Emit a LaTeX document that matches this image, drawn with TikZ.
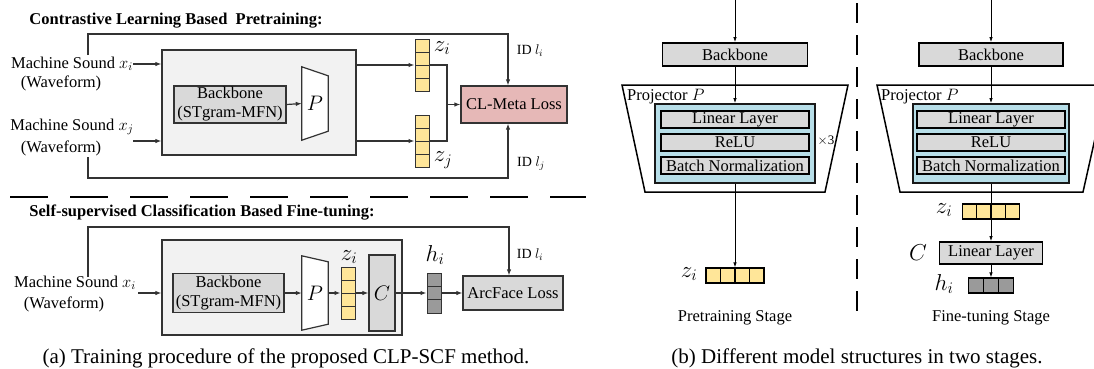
\RequirePackage{fix-cm}
\documentclass[tikz,border=0pt]{standalone}
\usepackage{fontspec}
\setmainfont{Liberation Serif}
\usetikzlibrary{arrows.meta,calc}
\definecolor{bgbox}{HTML}{F2F2F2}
\definecolor{gbox}{HTML}{D9D9D9}
\definecolor{yel}{HTML}{FFE699}
\definecolor{pinkbox}{HTML}{E6B8B7}
\definecolor{cyanbox}{HTML}{B7DEE8}
\definecolor{hgray}{HTML}{9A9A9A}
\definecolor{edge}{HTML}{333333}
\begin{document}
\begin{tikzpicture}[x=1pt,y=-1pt,
  font=\fontsize{16.5}{19}\selectfont,
  txt/.style={inner sep=0pt},
  mlab/.style={inner sep=0pt,font=\fontsize{23}{23}\selectfont},
  small/.style={inner sep=0pt,font=\fontsize{14}{16}\selectfont},
  bigbox/.style={draw=edge,fill=bgbox,line width=1.2pt,inner sep=0pt},
  graybox/.style={draw=edge,fill=gbox,line width=1.2pt,inner sep=0pt,align=center},
  pinkbx/.style={draw=edge,fill=pinkbox,line width=1.2pt,inner sep=0pt},
  pbox/.style={inner sep=0pt,font=\fontsize{21}{21}\selectfont},
  trap/.style={draw=edge,fill=white,line width=1.2pt},
  vsplit/.style={path picture={\foreach \k in {1,...,#1}{\draw[line width=1pt,draw=edge]
     ($(path picture bounding box.north west)!{\k/(#1+1)}!(path picture bounding box.south west)$) --
     ($(path picture bounding box.north east)!{\k/(#1+1)}!(path picture bounding box.south east)$);}}},
  hsplit/.style={path picture={\foreach \k in {1,...,#1}{\draw[line width=1.2pt,draw=black]
     ($(path picture bounding box.north west)!{\k/(#1+1)}!(path picture bounding box.north east)$) --
     ($(path picture bounding box.south west)!{\k/(#1+1)}!(path picture bounding box.south east)$);}}},
  yvec/.style={draw=edge,fill=yel,line width=1pt,inner sep=0pt},
  gvec/.style={draw=edge,fill=hgray,line width=1pt,inner sep=0pt},
  arr/.style={-{Latex[length=6pt,width=4.5pt]},line width=1.2pt,draw=edge},
  ln/.style={line width=1.2pt,draw=edge},
  bbx/.style={draw=black,fill=gbox,line width=1.8pt,inner sep=0pt},
  cybx/.style={draw=black!90,fill=cyanbox,line width=1.8pt,inner sep=0pt},
  ibx/.style={draw=black,fill=gbox,line width=1.8pt,inner sep=0pt},
  ptrap/.style={draw=black,line width=1.5pt},
  tarr/.style={-{Latex[length=5pt,width=3.5pt]},line width=0.8pt,draw=black},
  hyvec/.style={draw=black,fill=yel,line width=1.2pt,inner sep=0pt},
  hgvec/.style={draw=black,fill=hgray,line width=1.2pt,inner sep=0pt},
]
\useasboundingbox (0,0) rectangle (1094,368);
\clip (0,0) rectangle (1094,368);

% ---------------- (a) top: pretraining ----------------
\node[txt,font=\fontsize{16.5}{19}\selectfont\bfseries] (t1) at (176,21) {Contrastive Learning Based\ \ Pretraining:};
\node[txt] (msi) at (72,64) {Machine Sound $x_i$};
\node[txt] (wfi) at (61,83) {(Waveform)};
\node[txt] (msj) at (72,127) {Machine Sound $x_j$};
\node[txt] (wfj) at (61,148) {(Waveform)};
\node[bigbox,minimum width=194pt,minimum height=105pt] (bb1) at (259,102.5) {};
\node[graybox,minimum width=112pt,minimum height=37pt] (bk1) at (230,104.5) {Backbone\\(STgram-MFN)};
\node[pbox,minimum width=26pt,minimum height=73pt] (P1) at (315,103.5) {};
\draw[trap] (P1.north west) -- ($(P1.north east)+(0,9)$) -- ($(P1.south east)+(0,-9)$) -- (P1.south west) -- cycle;
\node[pbox] (P1t) at (P1.center) {$P$};
\node[yvec,vsplit=3,minimum width=14pt,minimum height=52pt] (zi) at (422,65) {};
\node[yvec,vsplit=3,minimum width=14pt,minimum height=52pt] (zj) at (422,141) {};
\node[mlab] (lzi) at (442,48) {$z_i$};
\node[mlab] (lzj) at (443,160) {$z_j$};
\node[pinkbx,minimum width=106pt,minimum height=37pt] (cl) at (514,104.5) {CL-Meta Loss};
\node[small] (idi) at (530,51) {ID $l_i$};
\node[small] (idj) at (531,164) {ID $l_j$};

\coordinate (xj) at (133,141);
\coordinate (mrg) at (447,104.5);
\coordinate (s1) at (88,55);
\coordinate (fa2) at (508,34);
\coordinate (s2) at (88,157);
\coordinate (fb2) at (508,178);
\draw[arr] (msi.east) -- (bb1.west |- msi.east);
\draw[arr] (xj) -- (bb1.west |- xj);
\draw[arr] (bk1.east) -- (P1.west);
\draw[arr] (bb1.east |- zi.west) -- (zi.west);
\draw[arr] (bb1.east |- zj.west) -- (zj.west);
\draw[ln] (zi.east) -| (mrg) |- (zj.east);
\draw[arr] (mrg) -- (cl.west);
\draw[arr] (s1) |- (fa2) -- (cl.north -| fa2);
\draw[arr] (s2) |- (fb2) -- (cl.south -| fb2);

% separator
\draw[line width=2.5pt,dash pattern=on 38pt off 22pt] (10,197) -- (586,197);

% ---------------- (a) bottom: fine-tuning ----------------
\node[txt,font=\fontsize{16.5}{19}\selectfont\bfseries] (t2) at (202,213) {Self-supervised Classification Based Fine-tuning:};
\node[txt] (msb) at (75,283) {Machine Sound $x_i$};
\node[txt] (wfb) at (64,304) {(Waveform)};
\node[bigbox,minimum width=240pt,minimum height=95pt] (bb2) at (282,287.5) {};
\node[graybox,minimum width=111pt,minimum height=39pt] (bk2) at (228.5,293) {Backbone\\(STgram-MFN)};
\node[pbox,minimum width=26pt,minimum height=74pt] (P2) at (315,293) {};
\draw[trap] (P2.north west) -- ($(P2.north east)+(0,6)$) -- ($(P2.south east)+(0,-6)$) -- (P2.south west) -- cycle;
\node[pbox] (P2t) at (P2.center) {$P$};
\node[yvec,vsplit=3,minimum width=14pt,minimum height=52pt] (zb) at (348,293) {};
\node[graybox,minimum width=26pt,minimum height=76pt] (cb) at (382,293) {\fontsize{21}{21}\selectfont$C$};
\node[gvec,vsplit=2,minimum width=14pt,minimum height=40pt] (hb) at (434,293) {};
\node[graybox,minimum width=100pt,minimum height=34pt] (arc) at (513,293) {ArcFace Loss};
\node[mlab] (lzb) at (349,257) {$z_i$};
\node[mlab] (lhb) at (435,255) {$h_i$};
\node[small] (idb) at (530,255) {ID $l_i$};

\coordinate (xb) at (138,293);
\coordinate (s3) at (88,277);
\coordinate (fc2) at (509,227);
\draw[arr] (xb) -- (bb2.west |- xb);
\draw[arr] (bk2.east) -- (P2.west);
\draw[arr] (P2.east) -- (zb.west);
\draw[arr] (zb.east) -- (cb.west);
\draw[arr] (cb.east) -- (hb.west);
\draw[arr] (hb.east) -- (arc.west);
\draw[arr] (s3) |- (fc2) -- (arc.north -| fc2);

\node[txt,font=\fontsize{21}{21}\selectfont] (capa) at (286,358) {(a) Training procedure of the proposed CLP-SCF method.};

% ---------------- (b) ----------------
\draw[line width=1.3pt,dash pattern=on 20pt off 12pt] (857,3) -- (857,322);

% left column: pretraining stage
\coordinate (inL) at (735,0);
\node[bbx,minimum width=145pt,minimum height=23pt] (bkL) at (735,54.5) {Backbone};
\draw[ptrap] (622,85) -- (848,85) -- (825,192) -- (645,192) -- cycle;
\node[txt,anchor=west] (prL) at (627,97) {Projector $P$};
\node[cybx,minimum width=160pt,minimum height=79pt] (cyL) at (735,143.5) {};
\node[ibx,minimum width=148pt,minimum height=17pt] (l1L) at (735,119.5) {Linear Layer};
\node[ibx,minimum width=148pt,minimum height=17pt] (r1L) at (735,142.5) {ReLU};
\node[ibx,minimum width=148pt,minimum height=17pt] (b1L) at (735,165.5) {Batch Normalization};
\node[small,font=\fontsize{13}{15}\selectfont] (x3) at (826,141) {$\times$3};
\node[hyvec,hsplit=3,minimum width=58pt,minimum height=15pt] (zL) at (735,275.5) {};
\node[mlab] (lzL) at (689,274) {$z_i$};
\node[txt] (stL) at (735,318) {Pretraining Stage};
\draw[tarr] (inL) -- (bkL.north);
\draw[tarr] (bkL.south) -- (cyL.north);
\draw[tarr] (cyL.south) -- (zL.north);

% right column: fine-tuning stage
\coordinate (inR) at (991,0);
\node[bbx,minimum width=144pt,minimum height=23pt] (bkR) at (991,54.5) {Backbone};
\draw[ptrap] (877,85) -- (1107,85) -- (1083,192) -- (900,192) -- cycle;
\node[txt,anchor=west] (prR) at (881,97) {Projector $P$};
\node[cybx,minimum width=156pt,minimum height=79pt] (cyR) at (991,143.5) {};
\node[ibx,minimum width=148pt,minimum height=17pt] (l1R) at (991,119.5) {Linear Layer};
\node[ibx,minimum width=148pt,minimum height=17pt] (r1R) at (991,142.5) {ReLU};
\node[ibx,minimum width=148pt,minimum height=17pt] (b1R) at (991,165.5) {Batch Normalization};
\node[hyvec,hsplit=3,minimum width=57pt,minimum height=15pt] (zR) at (991,211.5) {};
\node[mlab] (lzR) at (944,210) {$z_i$};
\node[ibx,minimum width=103pt,minimum height=22pt] (linR) at (991,253) {Linear Layer};
\node[mlab] (lC) at (918,253) {$C$};
\node[hgvec,hsplit=2,minimum width=45pt,minimum height=15pt] (hR) at (991,285.5) {};
\node[mlab] (lhR) at (944,284) {$h_i$};
\node[txt] (stR) at (991,318) {Fine-tuning Stage};
\draw[tarr] (inR) -- (bkR.north);
\draw[tarr] (bkR.south) -- (cyR.north);
\draw[tarr] (cyR.south) -- (linR.north);
\draw[tarr] (linR.south) -- (hR.north);

\node[txt,font=\fontsize{21}{21}\selectfont] (capb) at (857,358) {(b) Different model structures in two stages.};
\end{tikzpicture}
\end{document}
